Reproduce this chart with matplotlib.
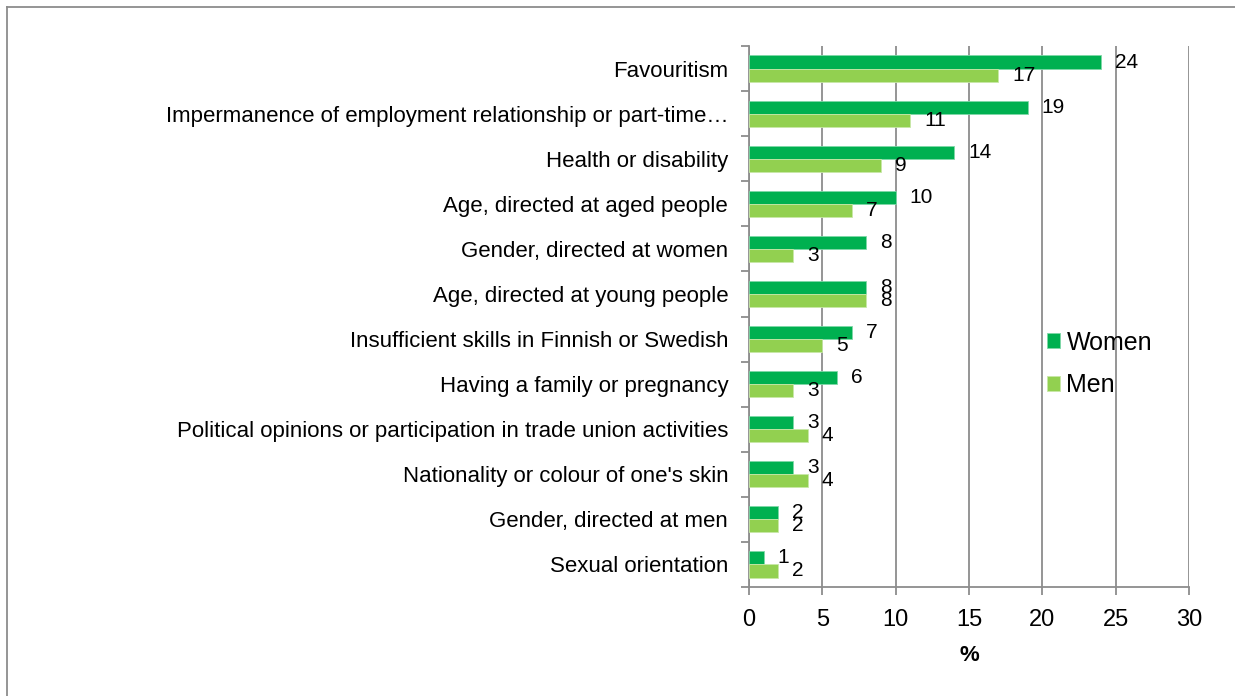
import matplotlib.pyplot as plt
import numpy as np
from matplotlib.lines import Line2D

plt.rcParams["font.family"] = ["Liberation Sans", "DejaVu Sans"]

categories = [
    "Favouritism",
    "Impermanence of employment relationship or part-time…",
    "Health or disability",
    "Age, directed at aged people",
    "Gender, directed at women",
    "Age, directed at young people",
    "Insufficient skills in Finnish or Swedish",
    "Having a family or pregnancy",
    "Political opinions or participation in trade union activities",
    "Nationality or colour of one's skin",
    "Gender, directed at men",
    "Sexual orientation",
]
women = [24, 19, 14, 10, 8, 8, 7, 6, 3, 3, 2, 1]
men = [17, 11, 9, 7, 3, 8, 5, 3, 4, 4, 2, 2]

WOMEN_COLOR = "#00B050"
MEN_COLOR = "#92D050"
GRID = "#8c8c8c"

fig = plt.figure(figsize=(12.35, 6.96), dpi=100)
ax = fig.add_axes([749 / 1235, 1 - 587 / 696, 440 / 1235, 541 / 696])

n = len(categories)
y = np.arange(n)
h = 0.29
ax.barh(y - h / 2, women, height=h, color=WOMEN_COLOR, label="Women",
        edgecolor="#7fd8a8", linewidth=0.6, zorder=3)
ax.barh(y + h / 2, men, height=h, color=MEN_COLOR, label="Men",
        edgecolor="#c8e8a8", linewidth=0.6, zorder=3)

for yi, w, m in zip(y, women, men):
    ax.annotate(str(w), (w, yi - h / 2), xytext=(10, 0), textcoords="offset points",
                va="center", ha="left", fontsize=15)
    ax.annotate(str(m), (m, yi + h / 2), xytext=(10, 0), textcoords="offset points",
                va="center", ha="left", fontsize=15)

ax.set_ylim(n - 0.5, -0.5)
ax.set_xlim(0, 30)
ax.set_xticks(range(0, 31, 5))
ax.set_yticks(y)
ax.set_yticklabels(categories, fontsize=16)
ax.set_yticks(np.arange(-0.5, n, 1), minor=True)
ax.tick_params(axis="y", which="major", length=0, pad=15)
ax.tick_params(axis="y", which="minor", length=6, color=GRID, width=1.3)
ax.tick_params(axis="x", length=6, color=GRID, width=1.3, labelsize=17, pad=10)
ax.set_xlabel("%", fontsize=16, fontweight="bold", labelpad=10)

for s in ["top", "right"]:
    ax.spines[s].set_visible(False)
for s in ["left", "bottom"]:
    ax.spines[s].set_color(GRID)
    ax.spines[s].set_linewidth(1.3)
ax.xaxis.grid(True, color=GRID, linewidth=1.3, zorder=0)
ax.set_axisbelow(True)

ax.legend(loc="center left", bbox_to_anchor=(1024 / 1235, 1 - 364 / 696),
          bbox_transform=fig.transFigure, frameon=False, fontsize=18,
          handlelength=0.55, handleheight=0.55, handletextpad=0.25, labelspacing=0.75)

fig.add_artist(Line2D([7 / 1235, 7 / 1235], [0, 1 - 7 / 696], transform=fig.transFigure,
                      color="#8c8c8c", linewidth=1.3))
fig.add_artist(Line2D([7 / 1235, 1], [1 - 7 / 696, 1 - 7 / 696], transform=fig.transFigure,
                      color="#8c8c8c", linewidth=1.3))

fig.savefig("out.png", dpi=100)
